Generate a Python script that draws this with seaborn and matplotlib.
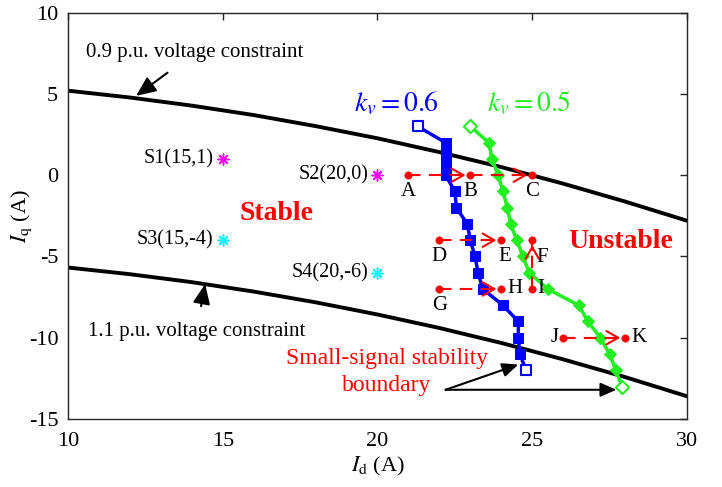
import numpy as np
import pandas as pd
import matplotlib
matplotlib.use("Agg")
import matplotlib.pyplot as plt
import seaborn as sns

# ---------------- data ----------------
# voltage constraint curves (Id, Iq)
vc_id = [10, 12, 14, 16, 18, 20, 22, 24, 26, 28, 30]
vc09_iq = [5.2, 4.78, 4.28, 3.70, 3.02, 2.27, 1.42, 0.50, -0.52, -1.62, -2.8]
vc11_iq = [-5.68, -6.09, -6.58, -7.16, -7.82, -8.57, -9.40, -10.32, -11.33, -12.42, -13.6]

# small-signal stability boundary, kv = 0.6
kv06_id = [21.3, 22.2, 22.2, 22.2, 22.2, 22.2, 22.5, 22.55, 22.9, 23.0, 23.15,
           23.25, 23.4, 24.05, 24.55, 24.55, 24.6, 24.8]
kv06_iq = [3, 2, 1.5, 1, 0.5, 0, -1, -2, -3, -4, -5, -6, -7, -8, -9, -10, -11, -12]

# small-signal stability boundary, kv = 0.5
kv05_id = [23.0, 23.6, 23.7, 23.9, 24.05, 24.2, 24.3, 24.5, 24.7, 24.9, 25.5,
           26.5, 26.8, 27.2, 27.5, 27.7, 27.9]
kv05_iq = [3, 2, 1, 0, -1, -2, -3, -4, -5, -6, -7, -8, -9, -10, -11, -12, -13]

# operating points S1..S4
s_names = ["S1(15,1)", "S2(20,0)", "S3(15,-4)", "S4(20,-6)"]
s_id = [15, 20, 15, 20]
s_iq = [1, 0, -4, -6]
s_colors = ["#ff00ff", "#ff00ff", "#00ffff", "#00ffff"]

# transition points A..K
p_names = ["A", "B", "C", "D", "E", "F", "G", "H", "I", "J", "K"]
p_id = [21, 23, 25, 22, 24, 25, 22, 24, 25, 26, 28]
p_iq = [0, 0, 0, -4, -4, -4, -7, -7, -7, -10, -10]
# transitions (from, to)
moves = [("A", "B"), ("B", "C"), ("D", "E"), ("G", "H"), ("I", "F"), ("J", "K")]

x_ticks = [10, 15, 20, 25, 30]
y_ticks = [-15, -10, -5, 0, 5, 10]

# ---------------- style ----------------
sns.set_theme(style="white")
plt.rcParams["font.family"] = ["Liberation Serif", "DejaVu Serif"]
plt.rcParams["mathtext.fontset"] = "stix"
plt.rcParams["axes.unicode_minus"] = False

fig = plt.figure(figsize=(7.22, 4.87), dpi=100)
ax = fig.add_axes([0.0942, 0.1396, 0.8573, 0.8344])

# constraint curves
sns.lineplot(x=vc_id, y=vc09_iq, ax=ax, color="black", lw=2.8, sort=False, estimator=None)
sns.lineplot(x=vc_id, y=vc11_iq, ax=ax, color="black", lw=2.8, sort=False, estimator=None)

# boundaries
blue = "#0000ff"
green = "#22ee22"
sns.lineplot(x=kv06_id, y=kv06_iq, ax=ax, color=blue, lw=2.5, sort=False, estimator=None,
             marker="s", markersize=6.5, markeredgecolor=blue, markerfacecolor=blue)
sns.lineplot(x=kv05_id, y=kv05_iq, ax=ax, color=green, lw=2.5, sort=False, estimator=None,
             marker="D", markersize=6.5, markeredgecolor=green, markerfacecolor=green)
# open end markers
for xs, ys, m, c in [(kv06_id, kv06_iq, "s", blue), (kv05_id, kv05_iq, "D", green)]:
    ends = pd.DataFrame({"x": [xs[0], xs[-1]], "y": [ys[0], ys[-1]]})
    sns.scatterplot(data=ends, x="x", y="y", ax=ax, marker=m, s=45, color="white",
                    edgecolor=c, linewidth=1.5, zorder=5)

# operating points
for name, x, y, c in zip(s_names, s_id, s_iq, s_colors):
    sns.scatterplot(x=[x], y=[y], ax=ax, marker=(8, 2, 0), s=60, color=c,
                    edgecolor=c, linewidth=1.1, zorder=5)
    ax.text(x - 0.3, y, name, ha="right", va="center", fontsize=14.5, color="black")

# transitions
pt = {n: (x, y) for n, x, y in zip(p_names, p_id, p_iq)}
red = "#ff0000"
for a, b in moves:
    (x0, y0), (x1, y1) = pt[a], pt[b]
    sns.lineplot(x=[x0, x1], y=[y0, y1], ax=ax, color=red, lw=1.5, sort=False,
                 estimator=None, linestyle=(0, (6, 4)))
    ax.annotate("", xy=(x1, y1), xytext=(x1 - 0.3 * np.sign(x1 - x0), y1 - 0.6 * np.sign(y1 - y0)),
                arrowprops=dict(arrowstyle="->,head_length=0.7,head_width=0.4", color=red,
                                lw=1.5, shrinkA=0, shrinkB=3.5))
sns.scatterplot(x=p_id, y=p_iq, ax=ax, color=red, s=28, edgecolor=red, zorder=6)

# point labels
lab_off = {"A": (0, -1.0, "center"), "B": (0, -1.0, "center"), "C": (0, -1.0, "center"),
           "D": (0, -1.0, "center"), "E": (0.1, -1.0, "center"), "F": (0.12, -1.05, "left"),
           "G": (0, -1.0, "center"), "H": (0.2, 0, "left"), "I": (0.15, 0, "left"),
           "J": (-0.15, 0, "right"), "K": (0.2, 0, "left")}
for n in p_names:
    dx, dy, ha = lab_off[n]
    x, y = pt[n]
    ax.text(x + dx, y + dy, n, ha=ha, va="center", fontsize=15, color="black")

# region labels
ax.text(16.75, -2.35, "Stable", color=red, fontsize=20, fontweight="bold", ha="center", va="center")
ax.text(27.85, -4.1, "Unstable", color=red, fontsize=20, fontweight="bold", ha="center", va="center")

# kv labels
ax.text(20.62, 4.4, r"$k_v = 0.6$", color=blue, fontsize=20, ha="center", va="center")
ax.text(24.91, 4.4, r"$k_v = 0.5$", color=green, fontsize=20, ha="center", va="center")

# constraint annotations
ax.annotate("0.9 p.u. voltage constraint", xy=(12.2, 4.88), xytext=(14.1, 7.55),
            fontsize=15, ha="center", va="center", color="black",
            arrowprops=dict(arrowstyle="-|>,head_length=0.8,head_width=0.35", color="black",
                            lw=1.5, shrinkA=9, shrinkB=0))
ax.annotate("1.1 p.u. voltage constraint", xy=(14.43, -6.7), xytext=(14.15, -9.6),
            fontsize=15, ha="center", va="center", color="black",
            arrowprops=dict(arrowstyle="-|>,head_length=0.8,head_width=0.35", color="black",
                            lw=1.5, shrinkA=9, shrinkB=0))

# stability boundary annotation
ax.text(20.32, -11.3, "Small-signal stability", color=red, fontsize=17, ha="center", va="center")
ax.text(20.3, -12.95, "boundary", color=red, fontsize=17, ha="center", va="center")
ax.annotate("", xy=(24.55, -11.65), xytext=(22.2, -13.2),
            arrowprops=dict(arrowstyle="-|>,head_length=0.8,head_width=0.35", color="black",
                            lw=1.5, shrinkA=0, shrinkB=0))
ax.annotate("", xy=(27.72, -13.2), xytext=(22.2, -13.2),
            arrowprops=dict(arrowstyle="-|>,head_length=0.8,head_width=0.35", color="black",
                            lw=1.5, shrinkA=0, shrinkB=0))

# axes
ax.set_xlim(10, 30)
ax.set_ylim(-15, 10)
ax.set_xticks(x_ticks)
ax.set_yticks(y_ticks)
ax.set_xticklabels([str(t) for t in x_ticks])
ax.set_yticklabels([str(t) for t in y_ticks])
ax.tick_params(direction="in", length=5, width=1, colors="#262626", labelsize=16,
               top=True, right=True, labelcolor="black")
ax.tick_params(axis="x", pad=9)
ax.tick_params(axis="y", pad=7)
for s in ax.spines.values():
    s.set_visible(True)
    s.set_color("#262626")
    s.set_linewidth(1.0)
ax.set_xlabel(r"$I_{\mathrm{d}}$ (A)", fontsize=16, labelpad=3, color="black")
ax.set_ylabel(r"$I_{\mathrm{q}}$ (A)", fontsize=16, color="black")
ax.yaxis.set_label_coords(-0.055, 0.5)
ax.grid(False)

fig.savefig("out.png", dpi=100)
